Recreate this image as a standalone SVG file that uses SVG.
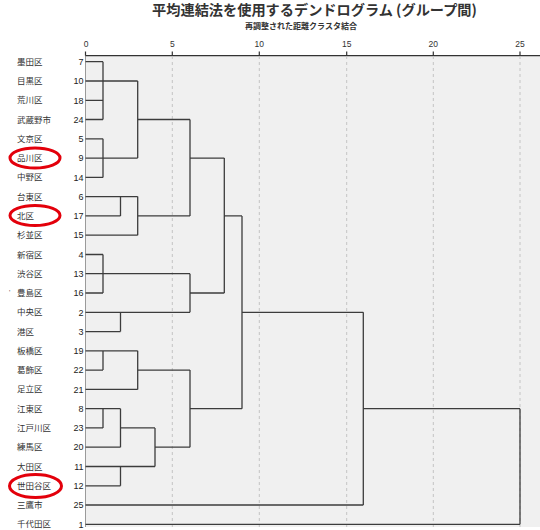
<svg xmlns="http://www.w3.org/2000/svg" width="540" height="530" viewBox="0 0 540 530">
<style>
.title{font-family:'Noto Sans CJK JP','Liberation Sans',sans-serif;font-weight:bold;fill:#333}
.name{font-family:'Noto Sans CJK JP',sans-serif;font-size:8.5px;fill:#333}
.num{font-family:'Liberation Sans',sans-serif;font-size:9px;fill:#222;text-anchor:end}
.tick{font-family:'Liberation Sans',sans-serif;font-size:8.5px;fill:#333;text-anchor:middle}
.grid{stroke:#c4c4c4;stroke-width:1;stroke-dasharray:3 3;fill:none}
.ln{stroke:#3c3c3c;stroke-width:1.3;fill:none}
.mark{fill:none;stroke:#e3000b;stroke-width:3}
</style>
<rect width="540" height="530" fill="#ffffff"/>
<rect x="85.5" y="56" width="454.5" height="471" fill="#f0f0f0"/>
<line x1="85.5" y1="56" x2="85.5" y2="527" stroke="#9a9a9a" stroke-width="1"/>
<text class="title" x="314.5" y="15" font-size="14.2" text-anchor="middle">平均連結法を使用するデンドログラム (グループ間)</text>
<text class="title" x="301" y="28.5" font-size="8" text-anchor="middle">再調整された距離クラスタ結合</text>
<g id="axis">
<line x1="85.5" y1="55.7" x2="540" y2="55.7" stroke="#333" stroke-width="1.2"/>
<path d="M85.5 51.5V55.7M172.3 51.5V55.7M259.3 51.5V55.7M346.7 51.5V55.7M433.3 51.5V55.7M520 51.5V55.7" stroke="#333" stroke-width="1.2"/>
<path class="grid" d="M172.3 56V527M259.3 56V527M346.7 56V527M433.3 56V527M520 56V527"/>
<text class="tick" x="86" y="47">0</text>
<text class="tick" x="172.3" y="47">5</text>
<text class="tick" x="259.3" y="47">10</text>
<text class="tick" x="346.7" y="47">15</text>
<text class="tick" x="433.3" y="47">20</text>
<text class="tick" x="520" y="47">25</text>
</g>
<g id="labels">
<g id="n7"><text class="name" x="17" y="64.7">墨田区</text><text class="num" x="83.5" y="64.9">7</text></g>
<g id="n10"><text class="name" x="17" y="84">目黒区</text><text class="num" x="83.5" y="84.2">10</text></g>
<g id="n18"><text class="name" x="17" y="103.3">荒川区</text><text class="num" x="83.5" y="103.5">18</text></g>
<g id="n24"><text class="name" x="17" y="122.5">武蔵野市</text><text class="num" x="83.5" y="122.7">24</text></g>
<g id="n5"><text class="name" x="17" y="141.8">文京区</text><text class="num" x="83.5" y="142">5</text></g>
<g id="n9"><text class="name" x="17" y="161.1">品川区</text><text class="num" x="83.5" y="161.3">9</text></g>
<g id="n14"><text class="name" x="17" y="180.4">中野区</text><text class="num" x="83.5" y="180.6">14</text></g>
<g id="n6"><text class="name" x="17" y="199.6">台東区</text><text class="num" x="83.5" y="199.8">6</text></g>
<g id="n17"><text class="name" x="17" y="218.9">北区</text><text class="num" x="83.5" y="219.1">17</text></g>
<g id="n15"><text class="name" x="17" y="238.2">杉並区</text><text class="num" x="83.5" y="238.4">15</text></g>
<g id="n4"><text class="name" x="17" y="257.5">新宿区</text><text class="num" x="83.5" y="257.7">4</text></g>
<g id="n13"><text class="name" x="17" y="276.7">渋谷区</text><text class="num" x="83.5" y="276.9">13</text></g>
<g id="n16"><text class="name" x="17" y="296">豊島区</text><text class="num" x="83.5" y="296.2">16</text><text x="9" y="295" font-family="'Liberation Sans',sans-serif" font-size="7" fill="#555">'</text></g>
<g id="n2"><text class="name" x="17" y="315.3">中央区</text><text class="num" x="83.5" y="315.5">2</text></g>
<g id="n3"><text class="name" x="17" y="334.6">港区</text><text class="num" x="83.5" y="334.8">3</text></g>
<g id="n19"><text class="name" x="17" y="353.8">板橋区</text><text class="num" x="83.5" y="354">19</text></g>
<g id="n22"><text class="name" x="17" y="373.1">葛飾区</text><text class="num" x="83.5" y="373.3">22</text></g>
<g id="n21"><text class="name" x="17" y="392.4">足立区</text><text class="num" x="83.5" y="392.6">21</text></g>
<g id="n8"><text class="name" x="17" y="411.7">江東区</text><text class="num" x="83.5" y="411.9">8</text></g>
<g id="n23"><text class="name" x="17" y="430.9">江戸川区</text><text class="num" x="83.5" y="431.1">23</text></g>
<g id="n20"><text class="name" x="17" y="450.2">練馬区</text><text class="num" x="83.5" y="450.4">20</text></g>
<g id="n11"><text class="name" x="17" y="469.5">大田区</text><text class="num" x="83.5" y="469.7">11</text></g>
<g id="n12"><text class="name" x="17" y="488.8">世田谷区</text><text class="num" x="83.5" y="489">12</text></g>
<g id="n25"><text class="name" x="17" y="508">三鷹市</text><text class="num" x="83.5" y="508.2">25</text></g>
<g id="n1"><text class="name" x="17" y="527.3">千代田区</text><text class="num" x="83.5" y="527.5">1</text></g>
</g>
<g id="connectors" class="ln">
<path d="M85.5 61.7H103M85.5 81H137.7M85.5 100.3H103M85.5 119.5H103M103 61.7V119.5"/>
<path d="M85.5 138.8H103M85.5 158.1H137.7M85.5 177.4H103M103 138.8V177.4M137.7 81V158.1M137.7 119.5H190"/>
<path d="M85.5 196.6H137.7M85.5 215.9H120.5M120.5 196.6V215.9M85.5 235.2H137.7M137.7 196.6V235.2M137.7 215.9H190"/>
<path d="M190 119.5V215.9M190 158.1H224.3"/>
<path d="M85.5 254.5H103M85.5 273.7H190M85.5 293H103M103 254.5V293"/>
<path d="M85.5 312.3H190M85.5 331.6H120.5M120.5 312.3V331.6M190 273.7V312.3M190 293H224.3"/>
<path d="M224.3 158.1V293M224.3 215.9H242"/>
<path d="M85.5 350.8H137.7M85.5 370.1H103M103 350.8V370.1M85.5 389.4H137.7M137.7 350.8V389.4M137.7 370.1H190"/>
<path d="M85.5 408.7H120.5M85.5 427.9H103M103 408.7V427.9M85.5 447.2H120.5M120.5 408.7V447.2M120.5 427.9H155"/>
<path d="M85.5 466.5H155M85.5 485.8H120.5M120.5 466.5V485.8M155 427.9V466.5M155 447.2H190"/>
<path d="M190 370.1V447.2M190 408.7H242M242 215.9V408.7M242 312.3H363.3"/>
<path d="M85.5 505H363.3M363.3 312.3V505M363.3 408.7H520M85.5 524.3H520M520 408.7V524.3"/>
</g>
<g id="highlights">
<ellipse class="mark" cx="35" cy="158" rx="25" ry="10"/>
<ellipse class="mark" cx="35" cy="215.5" rx="25" ry="10"/>
<ellipse class="mark" cx="35.5" cy="486" rx="26" ry="11.5"/>
</g>
</svg>
